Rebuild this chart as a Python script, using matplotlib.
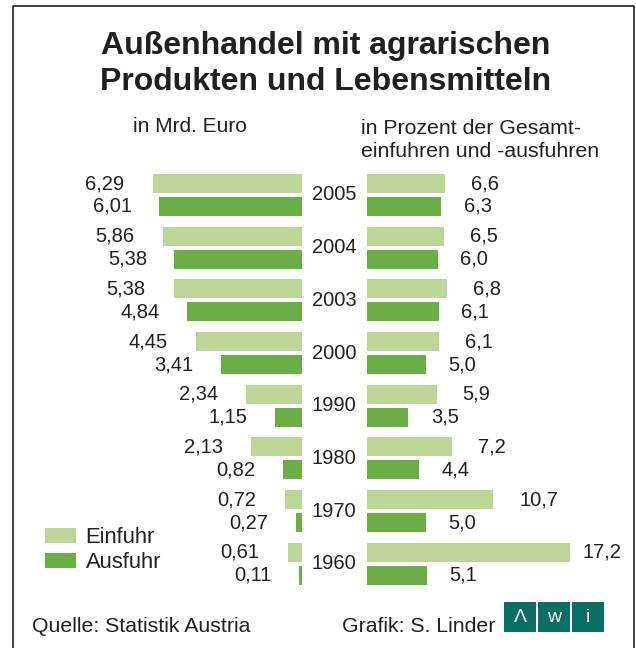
import numpy as np
import matplotlib
matplotlib.use("Agg")
import matplotlib.pyplot as plt
from matplotlib import transforms
from matplotlib.patches import Rectangle, Patch
from matplotlib.lines import Line2D

plt.rcParams['font.family'] = ['Liberation Sans', 'DejaVu Sans']

# Daten
jahre = ['2005', '2004', '2003', '2000', '1990', '1980', '1970', '1960']
einfuhr_mrd = [6.29, 5.86, 5.38, 4.45, 2.34, 2.13, 0.72, 0.61]
ausfuhr_mrd = [6.01, 5.38, 4.84, 3.41, 1.15, 0.82, 0.27, 0.11]
einfuhr_proz = [6.6, 6.5, 6.8, 6.1, 5.9, 7.2, 10.7, 17.2]
ausfuhr_proz = [6.3, 6.0, 6.1, 5.0, 3.5, 4.4, 5.0, 5.1]

hell = '#bed598'
dunkel = '#6cae46'
txt = '#231f20'
teal = '#0b6e63'

W, H = 636, 648
fig = plt.figure(figsize=(W / 100, H / 100), dpi=100)

def fx(px):
    return px / W

def fy(py):
    return 1 - py / H

# zwei Achsen: links Mrd. Euro, rechts Prozent
ax_l = fig.add_axes([fx(20), fy(600), (302 - 20) / W, 440 / H])
ax_r = fig.add_axes([fx(367), fy(600), (630 - 367) / W, 440 / H])

pos = np.arange(len(jahre))
off = 0.218
hoehe = 0.36

ax_l.barh(pos - off, einfuhr_mrd, height=hoehe, color=hell)
ax_l.barh(pos + off, ausfuhr_mrd, height=hoehe, color=dunkel)
ax_r.barh(pos - off, einfuhr_proz, height=hoehe, color=hell)
ax_r.barh(pos + off, ausfuhr_proz, height=hoehe, color=dunkel)

ax_l.set_xlim(282 / 23.75, 0)
ax_r.set_xlim(0, 263 / 11.8)
for ax in (ax_l, ax_r):
    ax.set_ylim(7.686, -0.664)
    ax.axis('off')

fs = 14.5
for i in range(len(jahre)):
    ax_l.text(einfuhr_mrd[i] + 1.2, pos[i] - off, f"{einfuhr_mrd[i]:.2f}".replace('.', ','),
              ha='right', va='center', fontsize=fs, color=txt)
    ax_l.text(ausfuhr_mrd[i] + 1.15, pos[i] + off, f"{ausfuhr_mrd[i]:.2f}".replace('.', ','),
              ha='right', va='center', fontsize=fs, color=txt)
    ax_r.text(min(einfuhr_proz[i] + 2.2, 18.3), pos[i] - off, f"{einfuhr_proz[i]:.1f}".replace('.', ','),
              ha='left', va='center', fontsize=fs, color=txt)
    ax_r.text(ausfuhr_proz[i] + 1.9, pos[i] + off, f"{ausfuhr_proz[i]:.1f}".replace('.', ','),
              ha='left', va='center', fontsize=fs, color=txt)

# Jahreszahlen in der Mitte
tr = transforms.blended_transform_factory(fig.transFigure, ax_l.transData)
for i, j in enumerate(jahre):
    ax_l.text(fx(334), pos[i], j, transform=tr, ha='center', va='center',
              fontsize=fs, color=txt, clip_on=False)

# Titel
fig.text(fx(326), fy(64), "Außenhandel mit agrarischen\nProdukten und Lebensmitteln",
         ha='center', va='center', fontsize=23, fontweight='bold', color=txt, linespacing=1.26)
fig.text(fx(133), fy(127), "in Mrd. Euro", ha='left', va='center', fontsize=15, color=txt)
fig.text(fx(361), fy(140), "in Prozent der Gesamt-\neinfuhren und -ausfuhren",
         ha='left', va='center', fontsize=15.3, color=txt, linespacing=1.25)

# Legende
handles = [Patch(facecolor=hell, label='Einfuhr'), Patch(facecolor=dunkel, label='Ausfuhr')]
leg = fig.legend(handles=handles, loc='upper left', bbox_to_anchor=(fx(45), fy(527)),
                 frameon=False, fontsize=15.8, handlelength=1.4, handleheight=0.7,
                 handletextpad=0.45, labelspacing=0.2, borderpad=0, borderaxespad=0)
for t in leg.get_texts():
    t.set_color(txt)

# Fusszeile
fig.text(fx(32), fy(626), "Quelle: Statistik Austria", ha='left', va='center', fontsize=15.3, color=txt)
fig.text(fx(342), fy(626), "Grafik: S. Linder", ha='left', va='center', fontsize=15.3, color=txt)

# Logo
for x0, ch in zip([504, 538, 572], ['Λ', 'w', 'i']):
    fig.add_artist(Rectangle((fx(x0), fy(632)), 32 / W, 30 / H, transform=fig.transFigure,
                             facecolor=teal, edgecolor='none'))
    fig.text(fx(x0 + 16), fy(617), ch, ha='center', va='center', fontsize=14, color='white')

# Rahmen
fig.add_artist(Line2D([fx(13), fx(13), fx(634), fx(634)], [0, fy(6), fy(6), 0],
                      transform=fig.transFigure, color=txt, lw=1.2))

fig.savefig('out.png', dpi=100)
